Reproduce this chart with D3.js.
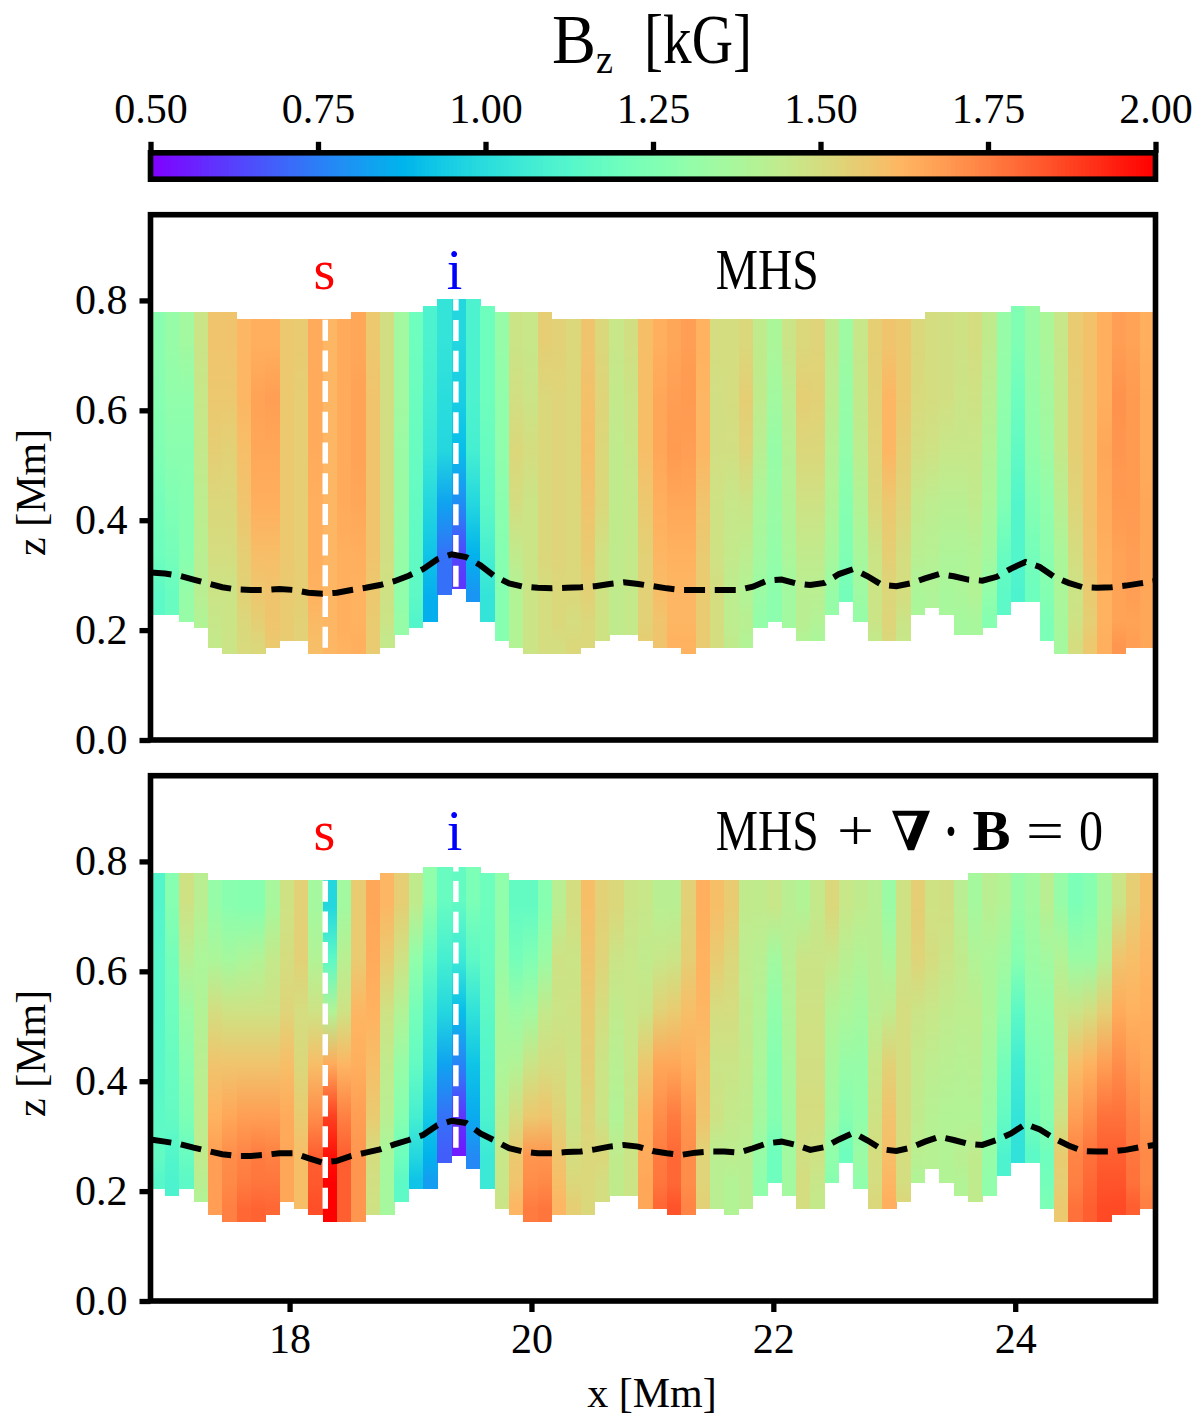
<!DOCTYPE html>
<html>
<head>
<meta charset="utf-8">
<script src="https://cdn.jsdelivr.net/npm/d3@7"></script>
<style>
  html, body { margin: 0; background: #fff; }
  text { font-family: "Liberation Serif", serif; fill: #000; }
</style>
</head>
<body>
<div id="chart-container"></div>
<script>
const colorTicks = [0.5, 0.75, 1, 1.25, 1.5, 1.75, 2]
const zTicks = [0, 0.2, 0.4, 0.6, 0.8]
const xTicks = [18, 20, 22, 24]

// z cell edges are in grid rows of about 0.012 Mm
const zStep = 0.01197
const bandEdges = [56, 48, 40, 32, 24, 20, 16, 0]

const xStart = 16.85
const xEnd = 25.16
const xStep = 0.1186

const mhsTop = [65,65,65,65,65,65,64,64,64,64,64,64,64,64,65,65,65,65,65,66,67,67,67,66,65,65,65,65,64,64,64,64,64,64,64,64,64,64,64,64,64,64,64,64,64,64,64,64,64,64,64,64,64,64,65,65,65,65,65,65,66,66,65,65,65,65,65,65,65,65]
const mhsBottom = [19,19,18,17,14,13,13,13,14,15,15,13,13,13,13,13,14,16,17,18,22,23,21,18,15,14,13,13,13,13,14,15,16,16,15,14,14,13,14,14,14,14,17,18,17,15,15,19,21,18,15,15,15,19,20,19,16,16,17,19,21,21,15,13,13,13,13,13,14,14]
const divTop = [65,65,65,65,64,64,64,64,64,64,64,64,64,64,64,64,65,65,65,66,66,66,66,65,65,64,64,64,64,64,64,64,64,64,64,64,64,64,64,64,64,64,64,64,64,64,64,64,64,64,64,64,64,64,64,64,64,65,65,65,65,65,65,65,65,65,65,65,65,65]
const divBottom = [17,16,17,15,13,12,12,12,13,15,14,13,12,12,12,13,13,15,17,17,21,22,20,17,14,13,12,12,13,13,13,15,16,16,14,14,13,13,14,14,13,14,16,18,16,14,14,18,21,17,14,14,15,18,20,18,16,15,16,19,21,21,14,12,12,12,12,13,13,14]

// black dashed curves, one height per column edge
const mhsHeight = [.305,.303,.299,.292,.285,.278,.274,.273,.273,.275,.273,.268,.266,.268,.273,.277,.282,.289,.299,.311,.329,.338,.333,.318,.298,.285,.279,.277,.276,.277,.278,.28,.284,.287,.284,.28,.276,.273,.273,.273,.273,.273,.279,.29,.292,.285,.282,.286,.302,.311,.298,.282,.28,.285,.294,.302,.298,.292,.29,.297,.312,.324,.315,.297,.286,.278,.277,.278,.281,.285,.289]
const divHeight = [.294,.29,.286,.279,.273,.267,.264,.264,.266,.269,.269,.26,.252,.255,.264,.27,.276,.285,.293,.302,.32,.328,.324,.305,.292,.278,.272,.269,.269,.271,.272,.276,.281,.284,.281,.273,.269,.266,.27,.272,.272,.27,.278,.287,.29,.284,.275,.28,.294,.306,.292,.276,.273,.279,.29,.299,.293,.286,.284,.293,.305,.322,.312,.296,.283,.273,.272,.272,.275,.28,.284]

// Bz per column, one value per band of bandEdges, top band first
const mhsBz = [
  [1.28,1.27,1.25,1.22,1.2,1.15,1.15],
  [1.32,1.3,1.28,1.25,1.22,1.18,1.18],
  [1.35,1.3,1.28,1.27,1.27,1.32,1.32],
  [1.47,1.46,1.45,1.43,1.42,1.42,1.4],
  [1.58,1.57,1.55,1.52,1.5,1.47,1.46,1.45],
  [1.58,1.57,1.54,1.52,1.5,1.47,1.47,1.47],
  [1.62,1.62,1.6,1.58,1.55,1.54,1.52,1.51],
  [1.64,1.67,1.66,1.64,1.6,1.57,1.55,1.52],
  [1.64,1.68,1.66,1.64,1.6,1.58,1.58,1.57],
  [1.57,1.57,1.57,1.57,1.57,1.56,1.56,1.56],
  [1.56,1.55,1.55,1.55,1.55,1.55,1.54,1.54],
  [1.65,1.65,1.65,1.64,1.64,1.63,1.61,1.6],
  [1.62,1.62,1.62,1.62,1.62,1.62,1.62,1.62],
  [1.65,1.65,1.65,1.65,1.64,1.64,1.64,1.63],
  [1.66,1.67,1.67,1.66,1.64,1.63,1.63,1.64],
  [1.57,1.58,1.58,1.58,1.58,1.57,1.56,1.56],
  [1.49,1.49,1.49,1.49,1.49,1.48,1.47,1.45],
  [1.35,1.35,1.33,1.33,1.32,1.3,1.32],
  [1.2,1.19,1.18,1.17,1.16,1.15,1.12],
  [1.1,1.08,1.05,.98,.92,.86,.86],
  [1.03,1,.98,.83,.72,.72],
  [.98,.95,.9,.78,.63,.6],
  [1.1,1.1,1.08,.98,.87,.8],
  [1.2,1.2,1.18,1.15,1.08,1.03,1.03],
  [1.32,1.3,1.3,1.28,1.27,1.27,1.27,1.27],
  [1.47,1.49,1.52,1.5,1.44,1.4,1.4,1.4],
  [1.46,1.47,1.5,1.47,1.47,1.47,1.47,1.47],
  [1.55,1.52,1.52,1.52,1.52,1.5,1.5,1.5],
  [1.54,1.53,1.53,1.53,1.53,1.52,1.52,1.5],
  [1.52,1.52,1.52,1.52,1.52,1.52,1.5,1.52],
  [1.58,1.59,1.6,1.58,1.56,1.54,1.52,1.52],
  [1.52,1.53,1.52,1.52,1.48,1.48,1.48,1.48],
  [1.46,1.45,1.44,1.44,1.44,1.44,1.44],
  [1.49,1.47,1.46,1.45,1.45,1.45,1.45],
  [1.6,1.6,1.6,1.57,1.54,1.54,1.54,1.55],
  [1.64,1.66,1.66,1.64,1.62,1.6,1.58,1.58],
  [1.66,1.68,1.69,1.66,1.63,1.62,1.62,1.63],
  [1.68,1.69,1.68,1.66,1.63,1.62,1.62,1.63],
  [1.63,1.62,1.62,1.58,1.56,1.56,1.56,1.56],
  [1.5,1.49,1.49,1.48,1.48,1.5,1.5,1.5],
  [1.5,1.5,1.49,1.46,1.45,1.43,1.43,1.44],
  [1.52,1.55,1.53,1.47,1.43,1.4,1.42,1.4],
  [1.44,1.44,1.42,1.38,1.36,1.33,1.31],
  [1.38,1.35,1.32,1.33,1.31,1.29,1.29],
  [1.47,1.43,1.41,1.4,1.38,1.35,1.35],
  [1.52,1.55,1.52,1.48,1.44,1.42,1.42,1.4],
  [1.53,1.54,1.52,1.48,1.44,1.42,1.4,1.38],
  [1.44,1.43,1.41,1.4,1.37,1.32,1.32],
  [1.34,1.32,1.3,1.27,1.25,1.22],
  [1.46,1.45,1.43,1.4,1.37,1.34,1.32],
  [1.55,1.54,1.53,1.52,1.47,1.47,1.47,1.45],
  [1.58,1.62,1.62,1.57,1.55,1.52,1.53,1.52],
  [1.57,1.57,1.55,1.53,1.5,1.5,1.47,1.46],
  [1.52,1.51,1.49,1.45,1.42,1.38,1.38],
  [1.5,1.5,1.48,1.43,1.41,1.39],
  [1.49,1.49,1.46,1.42,1.39,1.37,1.37],
  [1.48,1.47,1.46,1.42,1.39,1.38,1.36],
  [1.5,1.48,1.46,1.44,1.4,1.4,1.37],
  [1.44,1.42,1.4,1.38,1.36,1.3,1.27],
  [1.32,1.3,1.28,1.25,1.18,1.15,1.15],
  [1.25,1.2,1.16,1.12,1.12,1.1],
  [1.33,1.32,1.3,1.26,1.22,1.2],
  [1.38,1.36,1.34,1.3,1.28,1.26,1.24,1.24],
  [1.46,1.45,1.45,1.42,1.38,1.38,1.37,1.36],
  [1.56,1.55,1.55,1.53,1.5,1.47,1.48,1.5],
  [1.59,1.59,1.59,1.59,1.58,1.56,1.55,1.57],
  [1.64,1.64,1.66,1.65,1.64,1.63,1.63,1.64],
  [1.68,1.71,1.7,1.69,1.67,1.67,1.67,1.7],
  [1.67,1.69,1.69,1.69,1.68,1.68,1.67,1.68],
  [1.64,1.65,1.65,1.66,1.66,1.66,1.66,1.66]
]

const divBz = [
  [1.12,1.13,1.13,1.14,1.15,1.17,1.13],
  [1.27,1.22,1.2,1.18,1.17,1.12,1.1],
  [1.48,1.42,1.33,1.28,1.24,1.18,1.15],
  [1.42,1.38,1.4,1.42,1.43,1.44,1.42,1.4],
  [1.32,1.38,1.5,1.58,1.63,1.68,1.68,1.68],
  [1.28,1.36,1.48,1.58,1.66,1.72,1.73,1.75],
  [1.27,1.38,1.48,1.58,1.68,1.74,1.76,1.8],
  [1.27,1.4,1.48,1.58,1.68,1.76,1.77,1.81],
  [1.37,1.45,1.48,1.58,1.68,1.75,1.77,1.8],
  [1.48,1.5,1.53,1.6,1.65,1.66,1.66,1.66],
  [1.54,1.54,1.5,1.52,1.56,1.6,1.6,1.6],
  [1.36,1.4,1.48,1.6,1.72,1.82,1.83,1.85],
  [.98,1.15,1.4,1.65,1.88,1.97,2,2],
  [1.35,1.42,1.48,1.62,1.75,1.82,1.82,1.82],
  [1.56,1.56,1.62,1.64,1.68,1.7,1.7,1.7],
  [1.66,1.65,1.63,1.6,1.56,1.5,1.49,1.48],
  [1.62,1.56,1.48,1.44,1.42,1.37,1.36,1.36],
  [1.55,1.48,1.4,1.32,1.27,1.2,1.15,1.15],
  [1.44,1.3,1.22,1.17,1.08,.98,.92],
  [1.3,1.18,1.08,1.02,.93,.87,.82],
  [1.18,1.08,.98,.83,.72,.68],
  [1.17,1.05,.9,.76,.6,.55],
  [1.24,1.15,1.02,.92,.85,.77],
  [1.2,1.18,1.15,1.12,1.1,1.05,1.05],
  [1.3,1.32,1.36,1.38,1.42,1.46,1.46,1.47],
  [1.17,1.22,1.33,1.4,1.5,1.57,1.58,1.62],
  [1.17,1.25,1.35,1.47,1.57,1.7,1.72,1.76],
  [1.27,1.33,1.45,1.5,1.58,1.7,1.73,1.77],
  [1.42,1.48,1.47,1.5,1.54,1.58,1.6,1.62],
  [1.5,1.47,1.48,1.47,1.47,1.5,1.52,1.55],
  [1.6,1.58,1.56,1.55,1.53,1.52,1.52,1.52],
  [1.54,1.53,1.5,1.47,1.47,1.52,1.5,1.5],
  [1.52,1.47,1.44,1.42,1.4,1.44,1.44],
  [1.47,1.46,1.46,1.46,1.47,1.47,1.47],
  [1.46,1.44,1.47,1.57,1.64,1.65,1.66,1.66],
  [1.42,1.46,1.54,1.66,1.72,1.76,1.77,1.8],
  [1.42,1.47,1.56,1.66,1.76,1.8,1.8,1.84],
  [1.54,1.55,1.6,1.64,1.7,1.72,1.72,1.74],
  [1.64,1.63,1.62,1.6,1.58,1.53,1.53,1.54],
  [1.6,1.56,1.5,1.47,1.48,1.42,1.42,1.42],
  [1.56,1.52,1.5,1.47,1.45,1.43,1.4,1.4],
  [1.44,1.43,1.44,1.45,1.44,1.42,1.42,1.42],
  [1.44,1.42,1.4,1.38,1.36,1.32,1.3],
  [1.46,1.35,1.3,1.27,1.27,1.2,1.2],
  [1.42,1.42,1.4,1.38,1.36,1.35,1.35],
  [1.4,1.47,1.48,1.49,1.5,1.49,1.5,1.5],
  [1.45,1.47,1.48,1.49,1.5,1.48,1.46,1.45],
  [1.52,1.46,1.4,1.37,1.35,1.3,1.28],
  [1.46,1.42,1.38,1.32,1.27,1.2],
  [1.44,1.4,1.36,1.32,1.3,1.33,1.3],
  [1.42,1.42,1.42,1.46,1.48,1.5,1.5,1.52],
  [1.33,1.38,1.44,1.54,1.58,1.6,1.62,1.64],
  [1.48,1.48,1.5,1.5,1.5,1.5,1.5,1.52],
  [1.55,1.53,1.47,1.45,1.44,1.42,1.4],
  [1.48,1.5,1.46,1.43,1.41,1.41],
  [1.49,1.47,1.44,1.42,1.4,1.4,1.4],
  [1.42,1.44,1.43,1.41,1.4,1.42,1.4],
  [1.36,1.4,1.43,1.42,1.4,1.44,1.44,1.44],
  [1.42,1.38,1.38,1.36,1.34,1.32,1.3],
  [1.4,1.35,1.3,1.22,1.17,1.1,1.1],
  [1.32,1.27,1.15,1.07,1.03,1.02],
  [1.35,1.33,1.3,1.26,1.22,1.15],
  [1.42,1.35,1.3,1.28,1.27,1.2,1.22,1.24],
  [1.32,1.4,1.46,1.43,1.48,1.56,1.55,1.57],
  [1.24,1.33,1.47,1.6,1.68,1.74,1.75,1.78],
  [1.27,1.33,1.5,1.63,1.72,1.78,1.8,1.82],
  [1.37,1.42,1.55,1.68,1.78,1.82,1.84,1.86],
  [1.47,1.58,1.65,1.72,1.78,1.82,1.84,1.86],
  [1.55,1.6,1.63,1.68,1.74,1.77,1.78,1.82],
  [1.6,1.62,1.64,1.66,1.7,1.73,1.73,1.75]
]

// white dashed cuts: x, lowest z, highest z
const mhsCuts = [[18.295, 0.168, 0.766], [19.375, 0.279, 0.802]]
const divCuts = [[18.295, 0.168, 0.766], [19.375, 0.279, 0.79]]

const left = 150.5
const right = 1155.5
const frameWidth = 5.6
const tickWidth = 5.3
const tickLength = 11
const labelSize = 42

const svg = d3.select('#chart-container').append('svg').attr('width', 1200).attr('height', 1426)
const defs = svg.append('defs')

const xScale = d3.scaleLinear().domain([xStart, xEnd]).range([left, right])

// matplotlib "rainbow"
const rainbow = t =>
  d3.rgb(
    255 * Math.abs(2 * t - 0.5),
    255 * Math.sin(Math.PI * t),
    255 * Math.cos((Math.PI * t) / 2)
  )
const colorScale = d3.scaleSequential(rainbow).domain([0.5, 2]).clamp(true)

const styleAxis = g => {
  g.select('.domain').remove()
  g.selectAll('.tick line').attr('stroke', '#000').attr('stroke-width', tickWidth)
  g.selectAll('.tick text').attr('font-size', labelSize).attr('font-family', '"Liberation Serif", serif')
}

const addWord = (x, y, width, str, weight = 'normal', family = '"Liberation Serif", serif', size = 56) =>
  svg
    .append('text')
    .attr('x', x)
    .attr('y', y)
    .attr('font-size', size)
    .attr('font-weight', weight)
    .style('font-family', family)
    .attr('textLength', width)
    .attr('lengthAdjust', 'spacingAndGlyphs')
    .text(str)

const drawColorbar = () => {
  const y0 = 152.8
  const y1 = 179.2
  const barScale = d3.scaleLinear().domain([0.5, 2]).range([left, right])
  const samples = d3.range(0, 256)
  const sampleWidth = (right - left) / 256

  svg
    .append('g')
    .attr('shape-rendering', 'crispEdges')
    .selectAll('rect')
    .data(samples)
    .join('rect')
    .attr('x', d => left + d * sampleWidth)
    .attr('y', y0)
    .attr('width', sampleWidth + 1)
    .attr('height', y1 - y0)
    .attr('fill', d => colorScale(0.5 + (1.5 * d) / 255))

  svg
    .append('rect')
    .attr('x', left)
    .attr('y', y0)
    .attr('width', right - left)
    .attr('height', y1 - y0)
    .attr('fill', 'none')
    .attr('stroke', '#000')
    .attr('stroke-width', frameWidth)

  svg
    .append('g')
    .attr('transform', `translate(0,${y0})`)
    .call(d3.axisTop(barScale).tickValues(colorTicks).tickFormat(d3.format('.2f')).tickSize(tickLength).tickPadding(19))
    .call(styleAxis)

  addWord(552, 63, 44, 'B', 'normal', '"Liberation Serif", serif', 70)
  addWord(596, 73, 17, 'z', 'normal', '"Liberation Serif", serif', 42)
  addWord(644, 63, 108, '[kG]', 'normal', '"Liberation Serif", serif', 70)
}

const drawPanel = ({ name, top, bottom, zTop, columnsTop, columnsBottom, values, height, cuts, showX }) => {
  const zScale = d3.scaleLinear().domain([0, zTop]).range([bottom, top])

  // each column: one fill whose stops sit at the middle of its bands
  const columns = values.map((column, i) => {
    const stops = []
    bandEdges.forEach((edge, b) => {
      const hi = b === 0 ? columnsTop[i] : bandEdges[b - 1]
      const lo = Math.max(edge, columnsBottom[i])
      if (hi > lo) {
        stops.push({
          offset: (columnsTop[i] - (hi + lo) / 2) / (columnsTop[i] - columnsBottom[i]),
          value: column[Math.min(b, column.length - 1)]
        })
      }
    })
    return { i, stops, hi: columnsTop[i], lo: columnsBottom[i] }
  })

  defs
    .selectAll(`linearGradient.${name}`)
    .data(columns)
    .join('linearGradient')
    .attr('class', name)
    .attr('id', d => `${name}-${d.i}`)
    .attr('x1', 0)
    .attr('x2', 0)
    .attr('y1', 0)
    .attr('y2', 1)
    .selectAll('stop')
    .data(d => d.stops)
    .join('stop')
    .attr('offset', d => d.offset)
    .attr('stop-color', d => colorScale(d.value))

  svg
    .append('g')
    .attr('shape-rendering', 'crispEdges')
    .selectAll('rect')
    .data(columns)
    .join('rect')
    .attr('x', d => xScale(xStart + d.i * xStep))
    .attr('y', d => zScale(d.hi * zStep))
    .attr('width', xScale(xStart + xStep) - xScale(xStart) + 0.3)
    .attr('height', d => zScale(d.lo * zStep) - zScale(d.hi * zStep))
    .attr('fill', d => `url(#${name}-${d.i})`)

  // dashes run upwards from the lower end
  svg
    .append('g')
    .selectAll('line')
    .data(cuts)
    .join('line')
    .attr('x1', d => xScale(d[0]))
    .attr('x2', d => xScale(d[0]))
    .attr('y1', d => zScale(d[1]))
    .attr('y2', d => zScale(d[2]))
    .attr('stroke', '#fff')
    .attr('stroke-width', 5.5)
    .attr('stroke-dasharray', '21 9.7')

  const line = d3
    .line()
    .x((d, i) => xScale(xStart + i * xStep))
    .y(d => zScale(d))
  svg
    .append('path')
    .attr('d', line(height))
    .attr('fill', 'none')
    .attr('stroke', '#000')
    .attr('stroke-width', 6)
    .attr('stroke-dasharray', '21 9.7')

  svg
    .append('rect')
    .attr('x', left)
    .attr('y', top)
    .attr('width', right - left)
    .attr('height', bottom - top)
    .attr('fill', 'none')
    .attr('stroke', '#000')
    .attr('stroke-width', frameWidth)

  svg
    .append('g')
    .attr('transform', `translate(${left},0)`)
    .call(d3.axisLeft(zScale).tickValues(zTicks).tickFormat(d3.format('.1f')).tickSize(tickLength).tickPadding(12))
    .call(styleAxis)

  if (showX) {
    svg
      .append('g')
      .attr('transform', `translate(0,${bottom})`)
      .call(d3.axisBottom(xScale).tickValues(xTicks).tickFormat(d3.format('d')).tickSize(tickLength).tickPadding(11))
      .call(styleAxis)
  }

  svg
    .append('text')
    .attr('transform', `translate(45,${(top + bottom) / 2 + 15}) rotate(-90)`)
    .attr('font-size', labelSize)
    .attr('text-anchor', 'middle')
    .text('z [Mm]')

  const markerY = bottom - 451
  svg
    .append('text')
    .attr('x', 324.5)
    .attr('y', markerY)
    .attr('font-size', 56)
    .attr('text-anchor', 'middle')
    .style('fill', '#f00')
    .text('s')
  svg
    .append('text')
    .attr('x', 454.5)
    .attr('y', markerY)
    .attr('font-size', 56)
    .attr('text-anchor', 'middle')
    .style('fill', '#00f')
    .text('i')

  return markerY
}

drawColorbar()

const topMarker = drawPanel({
  name: 'mhs',
  top: 214.7,
  bottom: 740,
  zTop: 0.956,
  columnsTop: mhsTop,
  columnsBottom: mhsBottom,
  values: mhsBz,
  height: mhsHeight,
  cuts: mhsCuts,
  showX: false
})

const lowMarker = drawPanel({
  name: 'div',
  top: 775.7,
  bottom: 1301,
  zTop: 0.956,
  columnsTop: divTop,
  columnsBottom: divBottom,
  values: divBz,
  height: divHeight,
  cuts: divCuts,
  showX: true
})

addWord(715.7, topMarker, 103, 'MHS')

addWord(715.7, lowMarker, 103, 'MHS')
addWord(837, lowMarker, 37, '+')
addWord(891, lowMarker, 40, '∇', 'bold', '"DejaVu Serif", serif', 54)
addWord(944, lowMarker, 14, '·', 'bold')
addWord(972.5, lowMarker, 38, 'B', 'bold')
addWord(1026, lowMarker, 38, '=')
addWord(1079, lowMarker, 24, '0')

svg
  .append('text')
  .attr('x', 652)
  .attr('y', 1407)
  .attr('font-size', labelSize)
  .attr('text-anchor', 'middle')
  .text('x [Mm]')
</script>
</body>
</html>
